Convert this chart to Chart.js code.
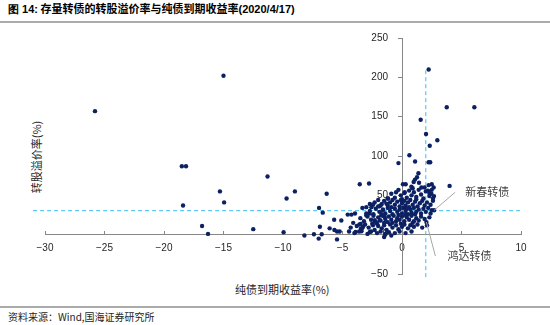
<!DOCTYPE html>
<html>
<head>
<meta charset="utf-8">
<script src="https://cdn.jsdelivr.net/npm/chart.js@4.4.1/dist/chart.umd.min.js"></script>
<style>
  body { margin:0; width:550px; height:325px; position:relative; overflow:hidden; background:#fff;
         font-family:"Noto Sans CJK SC", "Liberation Sans", sans-serif; color:#262626; }
  #title { position:absolute; left:8px; top:0; font-size:11px; line-height:16px; font-weight:bold; color:#000; white-space:nowrap; }
  #title b { font-family:"Liberation Sans", sans-serif; }
  .rule { position:absolute; left:0; width:550px; height:2px; background:#ababab; }
  #xTitle { position:absolute; left:235px; top:281px; font-size:11px; line-height:16px; white-space:nowrap; }
  #yTitle { position:absolute; left:-4px; top:150px; width:80px; height:14px; font-size:11px; line-height:14px;
            text-align:center; white-space:nowrap; transform:rotate(-90deg); }
  #source { position:absolute; left:8px; top:309px; font-size:10px; line-height:15px; white-space:nowrap; }
  #chart { position:absolute; left:0; top:0; }
</style>
</head>
<body>
<div id="title"><b>图 14:</b> 存量转债的转股溢价率与纯债到期收益率<b>(2020/4/17)</b></div>
<div class="rule" style="top:21px"></div>
<div id="yTitle">转股溢价率(%)</div>
<div id="xTitle">纯债到期收益率(%)</div>
<div class="rule" style="top:306px"></div>
<div id="source">资料来源：Wind,国海证券研究所</div>
<canvas id="chart" width="550" height="325"></canvas>
<script>
// 纯债到期收益率(%) / 转股溢价率(%)，左侧和高溢价的零散个券
var outerBonds = [
  [-25.8,157],[-18.5,87],[-18.15,87],[-18.4,37],[-16.8,11],[-16.3,1],[-15.3,55],[-15.0,202],
  [-14.95,41],[-12.5,7],[-11.3,74],[-9.95,3],[-9.7,46],[-9.0,55],[-8.2,-1],[-7.4,0.5],
  [-7.0,-5],[-6.9,10],[-6.75,0.5],[-6.97,34],[-6.66,28],[-6.33,52],[-6.08,8],[-5.46,-6],
  [-5.7,19],[-5.1,18],[-5.46,4],[-5.24,4],[-5.68,6],[-4.45,4],[-4.31,9],[-4.1,15],
  [-4.56,25.5],[-4.25,25.5],[-3.95,27],[-3.58,13],[-3.55,64],[-2.77,65],[-3.33,34],[-3.0,35],
  [-2.57,35],[-2.43,38],[-2.7,39],[-2.0,36],[-1.8,37],[-3.0,24.6],[-2.72,26.8],[-2.29,18.3],
  [-2.1,14.1],[-1.87,18.3],[-3.47,13.6],[-3.45,7.7],[-3.28,9.8],[-3.41,4.3],[-3.9,3.4],[-2.7,3.4],
  [-2.44,12],[-1.6,31],[-1.73,24.6],[-1.45,22.5],[-1.31,39.5],[-1.17,45.9]
];
// 高溢价区
var highBonds = [
  [2.24,210],[3.76,162],[6.08,162],[1.57,146],[2.02,128],[2.97,120],[2.33,113],[0.62,101],
  [-0.3,91],[1.1,93],[2.24,92],[2.37,92],[4.0,62],
  [1.38,78],[1.26,73],[1.09,70],[0.98,67],[1.43,66],[0.79,61],[1.63,60],[0.31,64],[0.08,64],
  [0.23,54],[2.18,56],[2.3,53],[2.47,52],[2.69,49],[2.24,63],[2.5,64],[2.66,60]
];
// 平价附近的密集区
var coreBonds = [
  [-1.2,46],[-0.9,52],[-0.6,47],[-0.3,57],[-0.1,50],[0.2,53],[0.4,47],[0.6,56],[0.8,50],[1.0,54],
  [1.2,48],[1.4,57],[1.6,51],[1.8,46],[2.0,55],[2.3,49],[2.5,57],[0.0,45],[0.9,59],[1.9,60],
  [-0.5,54],[2.6,46],
  [-2.3,41],[-2.0,44],[-1.7,39],[-1.5,43],[-1.2,37],[-1.0,41],[-0.8,44],[-0.6,38],[-0.4,42],
  [-0.2,36],[0.0,40],[0.2,43],[0.3,37],[0.5,41],[0.7,44],[0.9,38],[1.1,42],[1.3,36],[1.5,40],
  [1.7,43],[1.9,37],[2.1,41],[2.4,38],[2.6,43],[-1.9,36],[0.6,35],[1.2,45],[-0.1,44],
  [-3.0,27],[-2.7,30],[-2.4,26],[-2.2,33],[-1.9,29],[-1.6,32],[-1.4,27],[-1.2,34],[-1.0,30],
  [-0.8,26],[-0.6,33],[-0.4,29],[-0.2,32],[0.0,27],[0.1,34],[0.3,30],[0.5,26],[0.7,32],[0.8,28],
  [1.0,34],[1.2,29],[1.4,32],[1.6,27],[1.8,33],[2.0,29],[2.2,34],[2.4,27],[-0.9,35],[0.4,33],
  [1.1,26],[-1.7,26],[-0.3,25],[2.5,31],
  [-3.5,21],[-3.2,17],[-2.9,23],[-2.6,19],[-2.4,24],[-2.2,16],[-2.0,22],[-1.8,18],[-1.6,24],
  [-1.4,20],[-1.2,16],[-1.1,23],[-0.9,19],[-0.7,24],[-0.5,17],[-0.4,21],[-0.2,19],[0.0,23],
  [0.2,17],[0.4,22],[0.6,19],[0.8,24],[1.0,17],[1.2,21],[1.4,18],[1.6,23],[1.9,20],[2.3,22],
  [-1.5,15],[0.3,25],[-0.8,15],[0.9,15],
  [-3.8,11],[-3.4,7],[-3.1,13],[-2.8,9],[-2.5,14],[-2.3,6],[-2.0,11],[-1.7,8],[-1.5,12],
  [-1.3,6],[-1.0,13],[-0.8,9],[-0.5,12],[-0.3,7],[0.0,10],[0.2,13],[0.5,8],[0.7,12],[1.0,10],
  [1.3,13],[1.7,9],[2.1,12],[-0.1,14],
  [-4.0,2],[-3.6,4],[-2.9,1],[-2.6,4],[-2.1,2],[-1.8,4],[-1.4,1],[-1.1,3],[-0.6,2],[-0.2,4],
  [0.3,2],[0.8,4],[-1.5,-3],[-0.9,-1]
];
// 标注的两只转债
var noteNames = ['新春转债', '鸿达转债'];
var notePoints = [[2.7,31],[2.05,16]];
// 辅助虚线
var hLine = [[-31,30.5],[10,30.5]];
var vLine = [[2.0,-54],[2.0,209]];

var xTicks = [-30,-25,-20,-15,-10,-5,0,5,10];
var yTicks = [-50,0,50,100,150,200,250];

function toXY(arr){
  return arr.map(function(p){ return {x:p[0], y:p[1]}; });
}
var allBonds = outerBonds.concat(highBonds, coreBonds, notePoints);

function fmt(v){
  return v < 0 ? '\u2212' + Math.abs(v) : '' + v;
}

// y轴放在x=0处时标签贴着轴，往左挪一点
var yLabelGap = {
  id: 'yLabelGap',
  beforeDraw: function(chart){
    var items = chart.scales.y.getLabelItems();
    if (items.shifted) return;
    items.forEach(function(it){ it.options.translation[0] -= 14; });
    items.shifted = true;
  }
};

// 个券标注 + 引线
var noteOffsets = [[21,-18,31],[9,34,21]];
var noteLabels = {
  id: 'noteLabels',
  afterDatasetsDraw: function(chart){
    var ctx = chart.ctx, sx = chart.scales.x, sy = chart.scales.y;
    ctx.save();
    ctx.font = '11px "Noto Sans CJK SC"';
    ctx.textBaseline = 'middle';
    noteNames.forEach(function(name, i){
      var px = sx.getPixelForValue(notePoints[i][0]);
      var py = sy.getPixelForValue(notePoints[i][1]);
      var o = noteOffsets[i];
      ctx.strokeStyle = '#a6a6a6';
      ctx.lineWidth = 1;
      ctx.beginPath();
      ctx.moveTo(px, py);
      ctx.lineTo(px + o[0], py + o[1]);
      ctx.stroke();
      ctx.fillStyle = '#404040';
      ctx.fillText(name, px + o[2], py + o[1]);
    });
    ctx.restore();
  }
};

var dashStyle = {
  showLine: true, borderColor: '#3dbdf0', borderWidth: 1, borderDash: [4,3],
  pointRadius: 0, clip: false, order: 2
};

new Chart(document.getElementById('chart'), {
  type: 'scatter',
  data: {
    datasets: [
      { data: toXY(allBonds), backgroundColor: '#0c2163', borderWidth: 0, pointRadius: 2.2, order: 1 },
      Object.assign({ data: toXY(hLine) }, dashStyle),
      Object.assign({ data: toXY(vLine) }, dashStyle)
    ]
  },
  options: {
    responsive: false,
    animation: false,
    layout: { padding: { left: 45, right: 29, top: 38, bottom: 51 } },
    plugins: { legend: { display: false }, tooltip: { enabled: false } },
    scales: {
      x: {
        type: 'linear', min: -30, max: 10, position: { y: 0 },
        border: { color: '#878787', width: 1 },
        grid: { drawOnChartArea: false, tickLength: -4, color: '#878787' },
        afterBuildTicks: function(s){ s.ticks = xTicks.map(function(v){ return {value:v}; }); },
        ticks: { padding: 12, maxRotation: 0, color: '#262626',
                 font: { family: 'Liberation Sans', size: 10 }, callback: fmt }
      },
      y: {
        type: 'linear', min: -50, max: 250, position: { x: 0 },
        border: { color: '#878787', width: 1 },
        grid: { drawOnChartArea: false, tickLength: 4, color: '#878787' },
        afterBuildTicks: function(s){ s.ticks = yTicks.map(function(v){ return {value:v}; }); },
        ticks: { color: '#262626', font: { family: 'Liberation Sans', size: 10 }, callback: fmt }
      }
    }
  },
  plugins: [yLabelGap, noteLabels]
});
</script>
</body>
</html>
